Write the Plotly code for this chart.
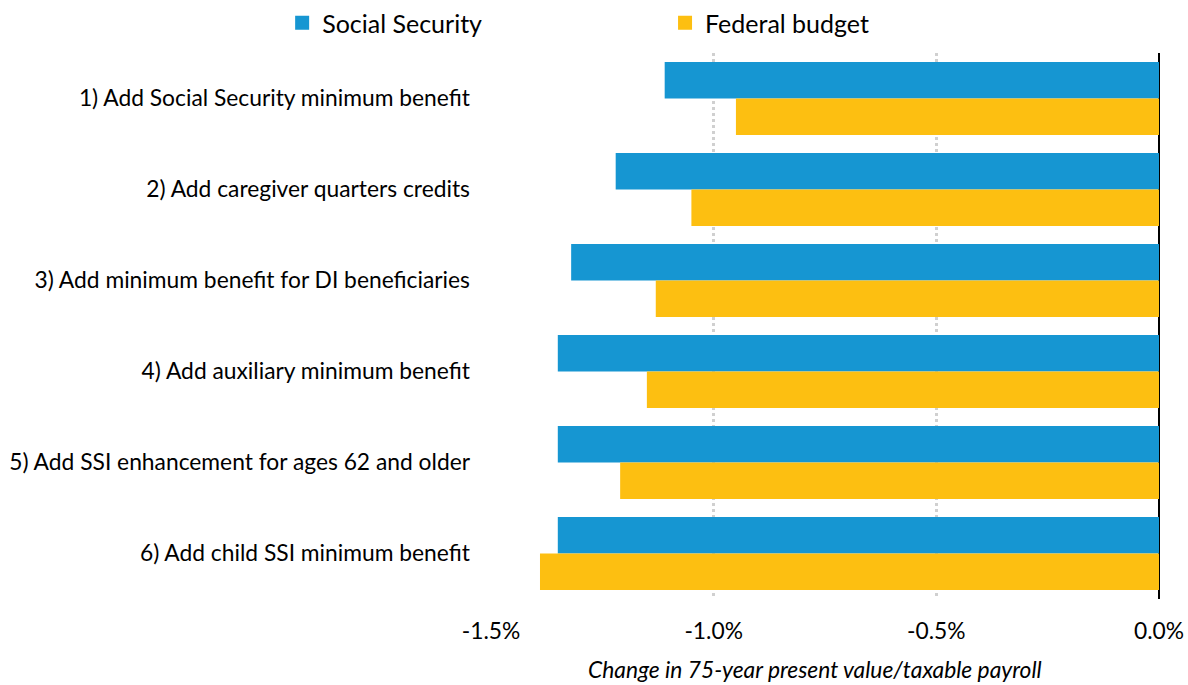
import plotly.graph_objects as go

categories = [
    "1) Add Social Security minimum benefit",
    "2) Add caregiver quarters credits",
    "3) Add minimum benefit for DI beneficiaries",
    "4) Add auxiliary minimum benefit",
    "5) Add SSI enhancement for ages 62 and older",
    "6) Add child SSI minimum benefit",
]
social_security = [-1.11, -1.22, -1.32, -1.35, -1.35, -1.35]
federal_budget = [-0.95, -1.05, -1.13, -1.15, -1.21, -1.39]
x_ticks = [-1.5, -1.0, -0.5, 0.0]
x_tick_labels = ["-1.5%", "-1.0%", "-0.5%", "0.0%"]
x_title = "Change in 75-year present value/taxable payroll"

BLUE = "#1696d2"
YELLOW = "#fdbf11"
FONT = "Lato"
LABEL_SIZE = 22.8

fig = go.Figure()
fig.add_trace(go.Bar(y=categories, x=social_security, orientation="h",
                     name="Social Security", marker=dict(color=BLUE, line_width=0),
                     showlegend=False))
fig.add_trace(go.Bar(y=categories, x=federal_budget, orientation="h",
                     name="Federal budget", marker=dict(color=YELLOW, line_width=0),
                     showlegend=False))
# legend swatches as small squares, each series in its own legend box
for name, color, leg in [("Social Security", BLUE, "legend"),
                         ("Federal budget", YELLOW, "legend2")]:
    fig.add_trace(go.Scatter(x=[None], y=[None], mode="markers", name=name,
                             legend=leg,
                             marker=dict(symbol="square", size=14, color=color)))

legend_common = dict(orientation="h", xref="container", yref="container",
                     y=1.0, xanchor="left", yanchor="top",
                     font=dict(size=25), itemclick=False, itemdoubleclick=False)

fig.update_layout(
    width=1188, height=685,
    margin=dict(l=491, r=29, t=53, b=86, autoexpand=False),
    paper_bgcolor="white", plot_bgcolor="white",
    barmode="group", bargap=0.2, bargroupgap=0,
    font=dict(family=FONT, size=LABEL_SIZE, color="#000000"),
    legend=dict(x=0.2375, **legend_common),
    legend2=dict(x=0.5598, **legend_common),
    xaxis=dict(range=[-1.5, 0.0], tickvals=x_ticks, ticktext=x_tick_labels,
               showgrid=True, gridcolor="#d0d0d0", griddash="dot", gridwidth=2.5,
               zeroline=True, zerolinecolor="#000000", zerolinewidth=2,
               showline=False, ticks="", ticklabelstandoff=16,
               tickfont=dict(size=LABEL_SIZE)),
    yaxis=dict(autorange="reversed", showgrid=False, showline=False, ticks="",
               ticklabelstandoff=20, tickfont=dict(size=LABEL_SIZE)),
    annotations=[dict(text=f"<i>{x_title}</i>", xref="paper", yref="paper",
                      x=0.485, y=0, yshift=-70, xanchor="center", yanchor="middle",
                      showarrow=False, font=dict(size=LABEL_SIZE))],
)

fig.write_html("out.html")
